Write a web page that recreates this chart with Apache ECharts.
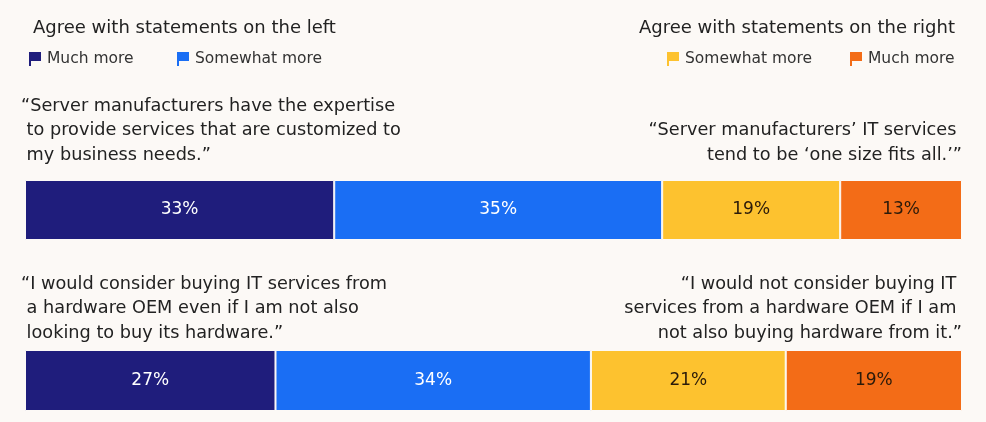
<!DOCTYPE html>
<html>
<head>
<meta charset="utf-8">
<script src="https://cdn.jsdelivr.net/npm/echarts@6/dist/echarts.min.js"></script>
<style>
  html, body { margin: 0; padding: 0; background: #fcf9f6; }
  #chart { width: 986px; height: 422px; }
</style>
</head>
<body>
<div id="chart"></div>
<script>
// data
var groupNames = ['Much more', 'Somewhat more', 'Somewhat more', 'Much more'];
var seriesKeys = ['leftMuch', 'leftSome', 'rightSome', 'rightMuch'];
var muchLeft = [33, 27];
var someLeft = [35, 34];
var someRight = [19, 21];
var muchRight = [13, 19];
var leftQuotes = [
    ['\u201cServer manufacturers have the expertise', ' to provide services that are customized to', ' my business needs.\u201d'],
    ['\u201cI would consider buying IT services from', ' a hardware OEM even if I am not also', ' looking to buy its hardware.\u201d']
];
var rightQuotes = [
    ['\u201cServer manufacturers\u2019 IT services ', 'tend to be \u2018one size fits all.\u2019\u201d'],
    ['\u201cI would not consider buying IT ', 'services from a hardware OEM if I am ', 'not also buying hardware from it.\u201d']
];

var colors = ['#1f1d7c', '#1a6ef4', '#fdc22f', '#f36c17'];
var labelColors = ['#ffffff', '#ffffff', '#2a1a0a', '#2a1a0a'];
var font = '"DejaVu Sans", sans-serif';
var bg = '#fcf9f6';

var values = [muchLeft, someLeft, someRight, muchRight];
var gridTops = [180, 350];
var gridHeights = [60, 61];

var grids = [], xAxes = [], yAxes = [], series = [];
for (var r = 0; r < 2; r++) {
    var total = 0;
    for (var k = 0; k < 4; k++) total += values[k][r];
    grids.push({ left: 25, right: 24, top: gridTops[r], height: gridHeights[r] });
    xAxes.push({ type: 'value', gridIndex: r, min: 0, max: total, show: false });
    yAxes.push({ type: 'category', gridIndex: r, data: ['row' + r], show: false });
    for (var s = 0; s < 4; s++) {
        series.push({
            name: seriesKeys[s],
            type: 'bar',
            stack: 'row' + r,
            xAxisIndex: r,
            yAxisIndex: r,
            barWidth: '100%',
            data: [values[s][r]],
            itemStyle: { color: colors[s], borderColor: bg, borderWidth: 1 },
            label: {
                show: true,
                position: 'inside',
                formatter: '{c}%',
                color: labelColors[s],
                fontFamily: font,
                fontSize: 17
            },
            emphasis: { disabled: true }
        });
    }
}

// flag shaped legend marker
var flagIcon = 'path://M0,0L2,0L2,14L0,14Z M2,0L12,0L12,9L2,9Z';
var legendLefts = [24, 172, 662, 845];
var legends = seriesKeys.map(function (key, i) {
    return {
        data: [{ name: key, icon: flagIcon, itemStyle: { color: colors[i], borderWidth: 0 } }],
        left: legendLefts[i],
        top: 46,
        itemWidth: 12,
        itemHeight: 14,
        itemGap: 0,
        selectedMode: false,
        formatter: function () { return groupNames[i]; },
        textStyle: { fontFamily: font, fontSize: 15.5, color: '#333', padding: [0, 0, 0, 1] }
    };
});

var graphics = [];
var quoteTops = [97, 275];
for (var q = 0; q < 2; q++) {
    leftQuotes[q].forEach(function (line, i) {
        graphics.push({
            type: 'text', left: 21, top: quoteTops[q] + i * 24.5,
            style: { text: line, font: '17.7px ' + font, fill: '#222' }
        });
    });
    var rl = rightQuotes[q];
    var offset = 3 - rl.length;
    rl.forEach(function (line, i) {
        graphics.push({
            type: 'text', right: 24, top: quoteTops[q] + (i + offset) * 24.5,
            style: { text: line, font: '17.7px ' + font, fill: '#222', textAlign: 'right' }
        });
    });
}

var chart = echarts.init(document.getElementById('chart'));
chart.setOption({
    backgroundColor: bg,
    animation: false,
    title: [
        { text: 'Agree with statements on the left', left: 28, top: 14,
          textStyle: { fontFamily: font, fontSize: 18, fontWeight: 'normal', color: '#222' } },
        { text: 'Agree with statements on the right', right: 26, top: 14,
          textStyle: { fontFamily: font, fontSize: 18, fontWeight: 'normal', color: '#222' } }
    ],
    legend: legends,
    grid: grids,
    xAxis: xAxes,
    yAxis: yAxes,
    series: series,
    graphic: graphics
});
</script>
</body>
</html>
